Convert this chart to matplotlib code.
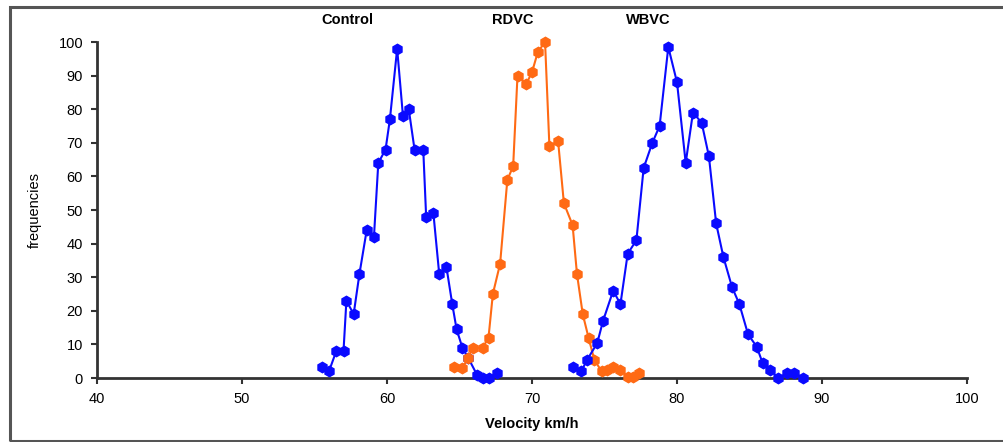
import matplotlib.pyplot as plt
from matplotlib.patches import Rectangle

# velocity (km/h) and frequencies
control_x = [55.5, 56.0, 56.5, 57.0, 57.2, 57.7, 58.1, 58.6, 59.1, 59.4, 59.9, 60.2, 60.7,
             61.1, 61.5, 61.9, 62.5, 62.7, 63.2, 63.6, 64.1, 64.5, 64.8, 65.2, 65.6,
             66.2, 66.6, 67.0, 67.6]
control_y = [3.3, 2, 8, 8, 23, 19, 31, 44, 42, 64, 68, 77, 98,
             78, 80, 68, 68, 48, 49, 31, 33, 22, 14.5, 9, 6,
             1, 0, 0, 1.5]

rdvc_x = [64.6, 65.2, 65.6, 65.9, 66.6, 67.0, 67.3, 67.8, 68.3, 68.7, 69.0, 69.6, 70.0,
          70.4, 70.9, 71.2, 71.8, 72.2, 72.8, 73.1, 73.5, 73.9, 74.3, 74.8, 75.2,
          75.6, 76.1, 76.6, 77.0, 77.4]
rdvc_y = [3.3, 3, 6, 9, 9, 12, 25, 34, 59, 63, 90, 87.5, 91,
          97, 100, 69, 70.5, 52, 45.5, 31, 19, 12, 5.4, 2, 2.4,
          3.3, 2.4, 0.3, 0.3, 1.5]

wbvc_x = [72.8, 73.4, 73.8, 74.5, 74.9, 75.6, 76.1, 76.6, 77.2, 77.7, 78.3, 78.8, 79.4,
          80.0, 80.6, 81.1, 81.7, 82.2, 82.7, 83.2, 83.8, 84.3, 84.9, 85.5, 85.9,
          86.4, 87.0, 87.6, 88.1, 88.7]
wbvc_y = [3.3, 2, 5.4, 10.4, 17, 26, 22, 37, 41, 62.5, 70, 75, 98.5,
          88, 64, 79, 76, 66, 46, 36, 27, 22, 13, 9.3, 4.5,
          2.4, 0, 1.5, 1.5, 0]

blue = '#0a0aff'
orange = '#ff6a14'

plt.rcParams['font.family'] = ['Liberation Sans', 'DejaVu Sans']

fig = plt.figure(figsize=(10.04, 4.42), dpi=100)
ax = fig.add_axes([97 / 1004, 1 - 378 / 442, 870 / 1004, 336 / 442])

for xs, ys, c in [(control_x, control_y, blue), (rdvc_x, rdvc_y, orange), (wbvc_x, wbvc_y, blue)]:
    ax.plot(xs, ys, color=c, lw=1.5, marker='h', markersize=7.5, markeredgecolor=c,
            clip_on=False, zorder=3)

ax.set_xlim(40, 100)
ax.set_ylim(0, 100)
ax.set_xticks(range(40, 101, 10))
ax.set_yticks(range(0, 101, 10))
ax.tick_params(direction='out', length=4, width=1.5, color='#333333', labelsize=10.5, pad=6)
for s in ['top', 'right']:
    ax.spines[s].set_visible(False)
for s in ['left', 'bottom']:
    ax.spines[s].set_linewidth(2)
    ax.spines[s].set_color('#333333')

ax.set_xlabel('Velocity km/h', fontsize=10.5, fontweight='bold', labelpad=8)
ax.set_ylabel('frequencies', fontsize=10.5, labelpad=12)

fig.text(347 / 1004, 1 - 20 / 442, 'Control', ha='center', va='center', fontsize=10.5, fontweight='bold')
fig.text(513 / 1004, 1 - 20 / 442, 'RDVC', ha='center', va='center', fontsize=10.5, fontweight='bold')
fig.text(648 / 1004, 1 - 20 / 442, 'WBVC', ha='center', va='center', fontsize=10.5, fontweight='bold')

# outer frame, open on the right side (cut off in the original)
fig.patches.append(Rectangle((10 / 1004, 1 / 442), 1000 / 1004, 434 / 442, transform=fig.transFigure,
                             fill=False, edgecolor='#555555', linewidth=2.2))

fig.savefig('out.png', dpi=100)
